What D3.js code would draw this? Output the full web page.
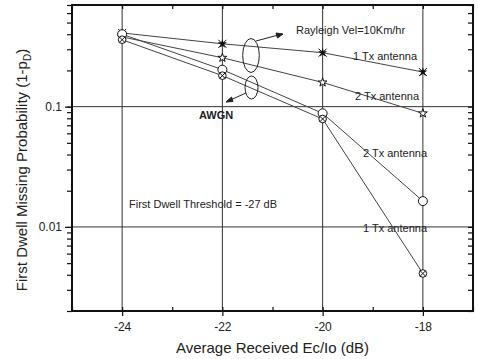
<!DOCTYPE html>
<html lang="en">
  <head>
    <meta charset="UTF-8" />
    <title>First Dwell Missing Probability</title>
    <script src="https://d3js.org/d3.v7.min.js"></script>
    <style>
      body { margin: 0; background: #fff; }
      svg { display: block; font-family: "Liberation Sans", Arial, sans-serif; }
    </style>
  </head>
  <body>
    <svg id="chart"></svg>

    <script>
      // data
      let ecio = [-24, -22, -20, -18]
      let ray1Tx = [0.41, 0.333, 0.281, 0.194]
      let ray2Tx = [0.38, 0.255, 0.159, 0.088]
      let awgn2Tx = [0.40, 0.203, 0.088, 0.0164]
      let awgn1Tx = [0.36, 0.181, 0.079, 0.0041]

      let xTicks = [-24, -22, -20, -18]
      let yTicks = [0.01, 0.1]
      let yTickLabels = ['0.01', '0.1']

      let width = 478
      let height = 359
      let plotLeft = 72, plotRight = 473, plotTop = 5, plotBottom = 311

      let svg = d3.select('#chart').attr('width', width).attr('height', height)

      let x = d3.scaleLinear().domain([-25, -17]).range([plotLeft, plotRight])
      let y = d3.scaleLog().domain([0.002, 0.7]).range([plotBottom, plotTop])

      let xMinor = d3.range(-25, -16.9, 1)
      let yMinor = []
      ;[0.001, 0.01, 0.1].forEach(dec => {
        for (let k = 1; k < 10; k++) {
          let v = +(dec * k).toPrecision(3)
          if (v >= 0.002 && v <= 0.7) yMinor.push(v)
        }
      })

      // grid lines at the labelled values
      let grid = svg.append('g').attr('stroke', '#333').attr('stroke-width', 1)
      grid.selectAll('line.gx').data(xTicks).enter().append('line')
        .attr('x1', d => x(d)).attr('x2', d => x(d))
        .attr('y1', plotTop).attr('y2', plotBottom)
      grid.selectAll('line.gy').data(yTicks).enter().append('line')
        .attr('x1', plotLeft).attr('x2', plotRight)
        .attr('y1', d => y(d)).attr('y2', d => y(d))

      // axes
      let ax = svg.append('g')
      ax.append('g').attr('transform', `translate(0,${plotBottom})`)
        .call(d3.axisBottom(x).tickValues(xTicks).tickSize(5).tickPadding(6).tickFormat(d => String(d)))
      ax.append('g').attr('transform', `translate(0,${plotBottom})`)
        .call(d3.axisTop(x).tickValues(xMinor).tickSize(4).tickFormat(''))
      ax.append('g').attr('transform', `translate(0,${plotTop})`)
        .call(d3.axisBottom(x).tickValues(xMinor).tickSize(4).tickFormat(''))
      ax.append('g').attr('transform', `translate(${plotLeft},0)`)
        .call(d3.axisLeft(y).tickValues(yTicks).tickSize(7).tickPadding(3).tickFormat((d, i) => yTickLabels[i]))
      ax.append('g').attr('transform', `translate(${plotLeft},0)`)
        .call(d3.axisLeft(y).tickValues(yMinor).tickSize(5).tickFormat(''))
      ax.append('g').attr('transform', `translate(${plotRight},0)`)
        .call(d3.axisLeft(y).tickValues(yMinor).tickSize(5).tickFormat(''))
      ax.selectAll('.domain').remove()
      ax.selectAll('.tick line').attr('stroke', '#111').attr('stroke-width', 1.2)
      ax.selectAll('.tick text').attr('font-size', 12).attr('fill', '#222')
        .attr('font-family', '"Liberation Sans", Arial, sans-serif')

      svg.append('rect')
        .attr('x', plotLeft).attr('y', plotTop)
        .attr('width', plotRight - plotLeft).attr('height', plotBottom - plotTop)
        .attr('fill', 'none').attr('stroke', '#111').attr('stroke-width', 2)

      // curves
      let series = [
        { name: 'ray1', values: ray1Tx },
        { name: 'ray2', values: ray2Tx },
        { name: 'awgn2', values: awgn2Tx },
        { name: 'awgn1', values: awgn1Tx },
      ]
      let line = d3.line().x((d, i) => x(ecio[i])).y(d => y(d))

      svg.append('g').selectAll('path').data(series).enter().append('path')
        .attr('d', d => line(d.values))
        .attr('fill', 'none').attr('stroke', '#444').attr('stroke-width', 1)

      let star = d3.symbol().type(d3.symbolStar)
      let pts = s => s.values.map((v, i) => [x(ecio[i]), y(v)])

      // 1 Tx Rayleigh: filled star with cross
      let g1 = svg.append('g').selectAll('g').data(pts(series[0])).enter().append('g')
        .attr('transform', d => `translate(${d[0]},${d[1]})`)
      g1.append('path').attr('d', star.size(26)).attr('fill', '#111')
      g1.append('path').attr('d', 'M-4,-4L4,4M-4,4L4,-4').attr('stroke', '#111').attr('stroke-width', 1)

      // 2 Tx Rayleigh: open star
      svg.append('g').selectAll('path').data(pts(series[1])).enter().append('path')
        .attr('transform', d => `translate(${d[0]},${d[1]})`)
        .attr('d', star.size(24)).attr('fill', '#fff').attr('stroke', '#111').attr('stroke-width', 1)

      // 2 Tx AWGN: open circle
      svg.append('g').selectAll('circle').data(pts(series[2])).enter().append('circle')
        .attr('cx', d => d[0]).attr('cy', d => d[1]).attr('r', 4.5)
        .attr('fill', '#fff').attr('stroke', '#111').attr('stroke-width', 1)

      // 1 Tx AWGN: crossed circle
      let g4 = svg.append('g').selectAll('g').data(pts(series[3])).enter().append('g')
        .attr('transform', d => `translate(${d[0]},${d[1]})`)
      g4.append('circle').attr('r', 3.8).attr('fill', '#fff').attr('stroke', '#111')
      g4.append('path').attr('d', 'M-2.7,-2.7L2.7,2.7M-2.7,2.7L2.7,-2.7').attr('stroke', '#111')

      // annotations
      let notes = svg.append('g').attr('font-size', 11).attr('fill', '#222')
      notes.append('text').attr('x', 296).attr('y', 34).text('Rayleigh Vel=10Km/hr')
      notes.append('text').attr('x', 353).attr('y', 60).text('1 Tx antenna')
      notes.append('text').attr('x', 355).attr('y', 100).text('2 Tx antenna')
      notes.append('text').attr('x', 363).attr('y', 157).text('2 Tx antenna')
      notes.append('text').attr('x', 363).attr('y', 232).text('1 Tx antenna')
      notes.append('text').attr('x', 199).attr('y', 119).attr('font-weight', 'bold').text('AWGN')
      notes.append('text').attr('x', 129).attr('y', 208).text('First Dwell Threshold = -27 dB')

      let ann = svg.append('g').attr('fill', 'none').attr('stroke', '#222').attr('stroke-width', 1)
      ann.append('ellipse').attr('cx', 251).attr('cy', 55.5).attr('rx', 8.3).attr('ry', 17)
      ann.append('ellipse').attr('cx', 251.5).attr('cy', 87.5).attr('rx', 6.5).attr('ry', 11.5)
      ann.append('line').attr('x1', 256).attr('y1', 41).attr('x2', 282).attr('y2', 34)
      ann.append('path').attr('d', 'M283,34L276,33L277.5,38Z').attr('fill', '#222')
      ann.append('line').attr('x1', 246).attr('y1', 93).attr('x2', 227).attr('y2', 101.5)
      ann.append('path').attr('d', 'M226,102L231.5,97L233,101.5Z').attr('fill', '#222')

      // axis titles
      svg.append('text')
        .attr('x', (plotLeft + plotRight) / 2).attr('y', 353)
        .attr('text-anchor', 'middle').attr('font-size', 15).attr('fill', '#222')
        .text('Average Received Ec/Io (dB)')

      let yt = svg.append('text')
        .attr('transform', 'translate(27,170) rotate(-90)')
        .attr('text-anchor', 'middle').attr('font-size', 15).attr('fill', '#222')
      yt.append('tspan').text('First Dwell Missing Probability (1-p')
      yt.append('tspan').attr('font-size', 10).attr('dy', 4).text('D')
      yt.append('tspan').attr('dy', -4).text(')')
    </script>
  </body>
</html>
